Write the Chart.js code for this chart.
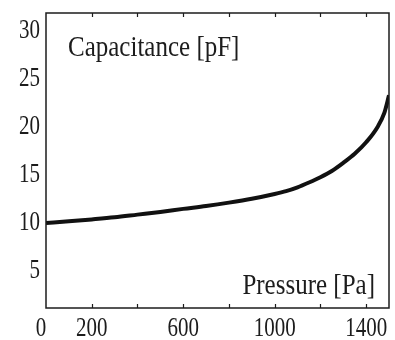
<!DOCTYPE html>
<html>
<head>
<meta charset="utf-8">
<script src="https://cdn.jsdelivr.net/npm/chart.js@4/dist/chart.umd.min.js"></script>
<style>
  html, body { margin: 0; padding: 0; background: #fff; }
  #wrap { width: 395px; height: 340px; }
</style>
</head>
<body>
<div id="wrap"><canvas id="capChart"></canvas></div>
<script>
// sensor response: capacitance vs applied pressure
const pressure = [0, 100, 200, 300, 400, 500, 600, 700, 800, 900, 1000, 1050, 1100, 1150, 1200, 1250, 1300, 1350, 1400, 1450, 1480, 1500];
const capacitance = [9.68, 9.85, 10.05, 10.27, 10.55, 10.83, 11.15, 11.45, 11.8, 12.2, 12.7, 13.0, 13.4, 13.9, 14.45, 15.1, 15.95, 16.9, 18.1, 19.7, 21.2, 23.0];

const xTicks = [0, 200, 400, 600, 800, 1000, 1200, 1400];
const xTickLabels = [0, 200, 600, 1000, 1400];
const yTickLabels = [5, 10, 15, 20, 25, 30];

const ink = '#1c1c1c';
const serif = '"Liberation Serif", "DejaVu Serif", serif';

// lettering is drawn tall and narrow: stretch it vertically
function tallText(ctx, text, x, y, align, stretch) {
  ctx.save();
  ctx.translate(x, y);
  ctx.scale(1, stretch);
  ctx.textAlign = align;
  ctx.textBaseline = 'middle';
  ctx.fillText(text, 0, 0);
  ctx.restore();
}

// box round the plot, inward ticks, tick labels and the two captions
const frame = {
  id: 'frame',
  afterDraw(chart) {
    const { ctx, chartArea: a, scales } = chart;
    ctx.save();
    ctx.strokeStyle = ink;
    ctx.lineWidth = 1.5;
    ctx.strokeRect(a.left, a.top, a.right - a.left, a.bottom - a.top);
    ctx.lineWidth = 1.2;
    xTicks.forEach(v => {
      if (v === 0) return;
      const px = Math.round(scales.x.getPixelForValue(v)) + 0.5;
      ctx.beginPath();
      ctx.moveTo(px, a.bottom);
      ctx.lineTo(px, a.bottom - 4);
      ctx.moveTo(px, a.top);
      ctx.lineTo(px, a.top + 4);
      ctx.stroke();
    });

    ctx.fillStyle = ink;
    ctx.font = '21px ' + serif;
    xTickLabels.forEach(v => {
      const px = scales.x.getPixelForValue(v) - (v === 0 ? 5 : 0);
      tallText(ctx, String(v), px, a.bottom + 21, 'center', 1.3);
    });
    yTickLabels.forEach(v => {
      tallText(ctx, String(v), a.left - 6, scales.y.getPixelForValue(v) + 3, 'right', 1.3);
    });

    ctx.font = '25px ' + serif;
    tallText(ctx, 'Capacitance [pF]', a.left + 22, a.top + 35, 'left', 1.2);
    tallText(ctx, 'Pressure [Pa]', a.right - 14, a.bottom - 22, 'right', 1.2);
    ctx.restore();
  }
};

new Chart(document.getElementById('capChart'), {
  type: 'line',
  data: {
    datasets: [{
      data: pressure.map((p, i) => ({ x: p, y: capacitance[i] })),
      borderColor: '#111',
      borderWidth: 4,
      pointRadius: 0,
      cubicInterpolationMode: 'monotone',
      fill: false
    }]
  },
  options: {
    responsive: true,
    maintainAspectRatio: false,
    animation: false,
    layout: { padding: { top: 13, right: 6, left: 0, bottom: 0 } },
    plugins: { legend: { display: false }, tooltip: { enabled: false } },
    scales: {
      x: {
        type: 'linear',
        min: 0,
        max: 1500,
        afterBuildTicks: s => { s.ticks = xTicks.map(v => ({ value: v })); },
        afterFit: s => { s.height = 32; },
        grid: { display: false },
        border: { display: false },
        ticks: { display: false }
      },
      y: {
        min: 0.8,
        max: 31.6,
        afterBuildTicks: s => { s.ticks = yTickLabels.map(v => ({ value: v })); },
        afterFit: s => { s.width = 46; },
        grid: { display: false },
        border: { display: false },
        ticks: { display: false }
      }
    }
  },
  plugins: [frame]
});
</script>
</body>
</html>
